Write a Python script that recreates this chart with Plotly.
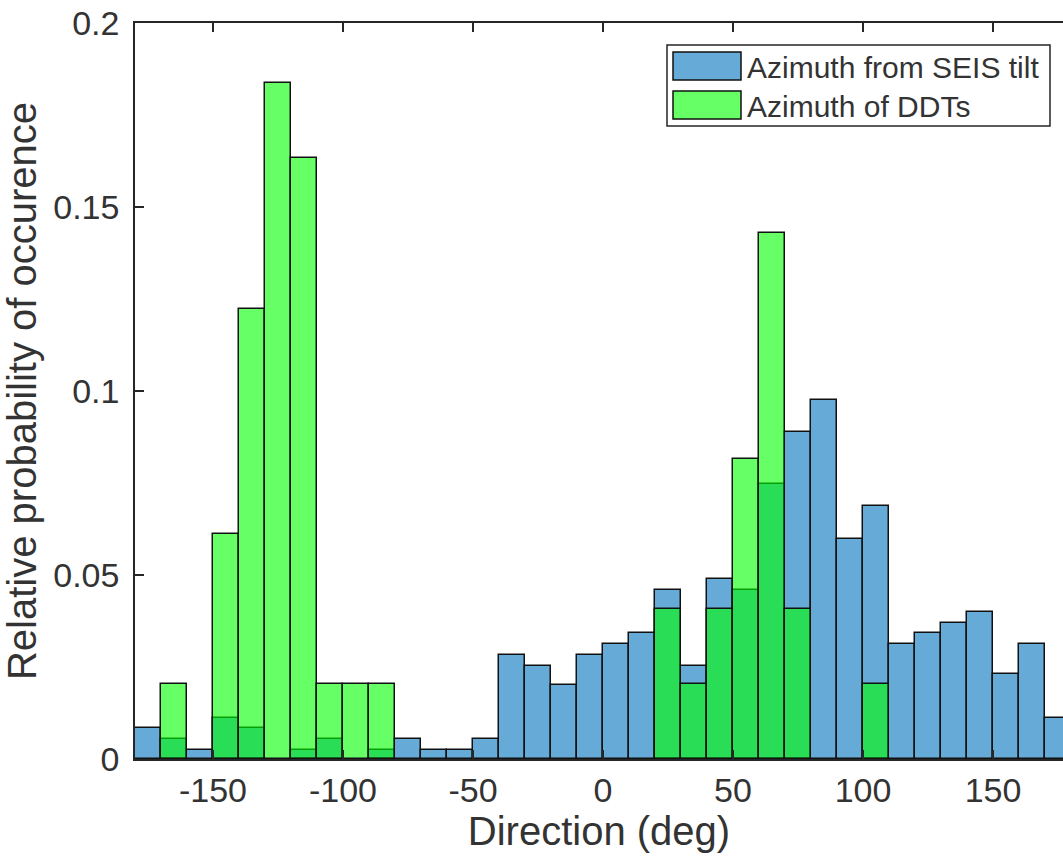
import plotly.graph_objects as go

# Histogram bins (deg), 10-degree wide from -180 to 180
bin_start = -180
bin_width = 10
n_bins = 36

# Relative probability of occurrence per bin
seis_tilt = [0.0083, 0.0054, 0.0024, 0.0112, 0.0083, 0.0, 0.0024, 0.0054, 0.0,
             0.0024, 0.0054, 0.0024, 0.0024, 0.0054, 0.0282, 0.0253, 0.0200, 0.0282,
             0.0312, 0.0342, 0.0458, 0.0253, 0.0488, 0.0458, 0.0746, 0.0888, 0.0975,
             0.0599, 0.0687, 0.0312, 0.0342, 0.0370, 0.0400, 0.0230, 0.0312, 0.0112]
ddts = [0.0, 0.0204, 0.0, 0.0612, 0.1224, 0.1837, 0.1633, 0.0204, 0.0204,
        0.0204, 0.0, 0.0, 0.0, 0.0, 0.0, 0.0, 0.0, 0.0,
        0.0, 0.0, 0.0408, 0.0204, 0.0408, 0.0816, 0.1429, 0.0408, 0.0,
        0.0, 0.0204, 0.0, 0.0, 0.0, 0.0, 0.0, 0.0, 0.0]

series_names = ["Azimuth from SEIS tilt", "Azimuth of DDTs"]
x_ticks = [-150, -100, -50, 0, 50, 100, 150]
y_ticks = [0, 0.05, 0.1, 0.15, 0.2]
y_tick_labels = ["0", "0.05", "0.1", "0.15", "0.2"]

centers = [bin_start + bin_width * (i + 0.5) for i in range(n_bins)]

def nonempty(vals):
    # empty bins draw nothing (avoid zero-height outlines on the axis)
    return [v if v > 0 else None for v in vals]

blue = "rgba(0,114,189,0.6)"
green = "rgba(0,255,0,0.6)"
font_family = "Liberation Sans, Arial, sans-serif"
axis_color = "#262626"
text_color = "#333333"
edge_color = "#111111"

fig = go.Figure()
fig.add_trace(go.Bar(x=centers, y=nonempty(seis_tilt), width=bin_width, name=series_names[0],
                     marker=dict(color=blue, line=dict(color=edge_color, width=1.5))))
fig.add_trace(go.Bar(x=centers, y=nonempty(ddts), width=bin_width, name=series_names[1],
                     marker=dict(color=green, line=dict(color=edge_color, width=1.5))))

W, H = 1063, 863
ml, mr, mt, mb = 135, 0, 23, 104
px_per_deg = 2.6
x_max = -180 + (W - ml - mr) / px_per_deg

fig.update_layout(
    width=W, height=H,
    margin=dict(l=ml, r=mr, t=mt, b=mb, pad=0),
    barmode="overlay",
    bargap=0,
    showlegend=False,
    plot_bgcolor="white",
    paper_bgcolor="white",
    font=dict(family=font_family, color=text_color, size=34),
)
fig.update_xaxes(
    range=[-180, x_max], tickvals=x_ticks, ticktext=[str(v) for v in x_ticks],
    showline=True, linecolor=axis_color, linewidth=1.5, mirror="ticks",
    ticks="inside", ticklen=9, tickwidth=1.5, tickcolor=axis_color,
    showgrid=False, zeroline=False,
    tickfont=dict(size=34, family=font_family, color=text_color),
    title=dict(text="Direction (deg)", font=dict(size=40, family=font_family, color=text_color), standoff=6),
)
fig.update_yaxes(
    range=[0, 0.2], tickvals=y_ticks, ticktext=y_tick_labels,
    showline=True, linecolor=axis_color, linewidth=1.5,
    ticks="inside", ticklen=9, tickwidth=1.5, tickcolor=axis_color,
    showgrid=False, zeroline=False, ticklabelstandoff=7,
    tickfont=dict(size=34, family=font_family, color=text_color),
    title=dict(text="Relative probability of occurence", font=dict(size=40, family=font_family, color=text_color), standoff=4),
)

# Custom legend (MATLAB style, large swatches)
pw = W - ml - mr
ph = H - mt - mb
def px_x(x):
    return (x - ml) / pw
def px_y(y):
    return (H - mb - y) / ph

shapes = [
    dict(type="rect", xref="paper", yref="paper", x0=px_x(667), x1=px_x(1050),
         y0=px_y(126), y1=px_y(45), line=dict(color=axis_color, width=1.5), fillcolor="white"),
    dict(type="rect", xref="paper", yref="paper", x0=px_x(673), x1=px_x(741),
         y0=px_y(80), y1=px_y(52), line=dict(color=edge_color, width=1.5), fillcolor=blue),
    dict(type="rect", xref="paper", yref="paper", x0=px_x(673), x1=px_x(741),
         y0=px_y(119), y1=px_y(91), line=dict(color=edge_color, width=1.5), fillcolor=green),
]
fig.update_layout(shapes=shapes)
for name, yc in zip(series_names, [67, 106]):
    fig.add_annotation(xref="paper", yref="paper", x=px_x(745), y=px_y(yc),
                       text=name, showarrow=False, xanchor="left", yanchor="middle",
                       font=dict(size=30, family=font_family, color=text_color))

fig.write_html("out.html", config={"displayModeBar": False},
               post_script="document.body.style.margin='0';document.body.style.overflow='hidden';")
